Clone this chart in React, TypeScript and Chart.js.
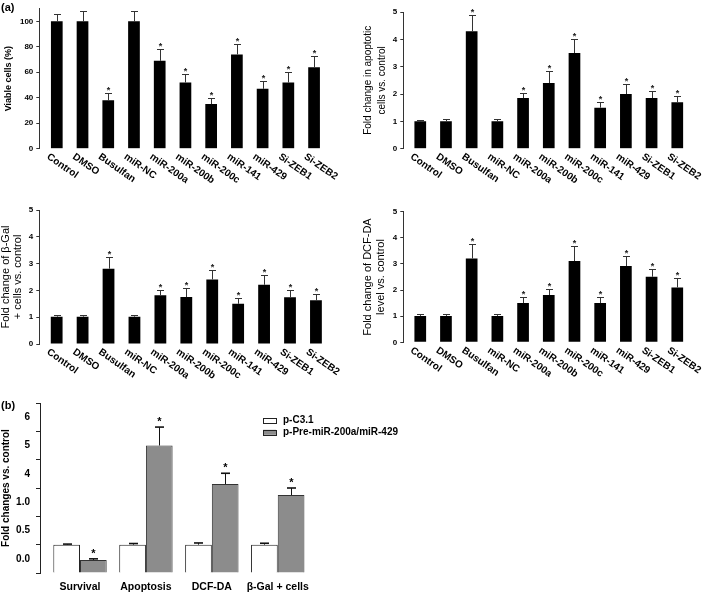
import React, { useEffect, useRef } from "react";
import { Chart, registerables } from "chart.js";

Chart.register(...registerables);

const FONT = '"Liberation Sans", Arial, sans-serif';

// ---------- Panel (a) data ----------
const categoriesA = ["Control", "DMSO", "Busulfan", "miR-NC", "miR-200a", "miR-200b", "miR-200c", "miR-141", "miR-429", "Si-ZEB1", "Si-ZEB2"];
const significantA = [false, false, true, false, true, true, true, true, true, true, true];

const viableCells = [100, 100, 38, 100, 69, 52, 35, 74, 47, 52, 64];
const viableCellsErr = [106, 108, 44, 108, 78, 59, 40, 82, 53, 60, 73];

const apoptoticFold = [1.0, 1.0, 4.3, 1.0, 1.85, 2.4, 3.5, 1.5, 2.0, 1.85, 1.7];
const apoptoticFoldErr = [1.06, 1.08, 4.9, 1.1, 2.05, 2.83, 4.02, 1.71, 2.35, 2.12, 1.93];

const betaGalFold = [1.02, 1.02, 2.81, 1.02, 1.82, 1.75, 2.41, 1.5, 2.21, 1.74, 1.63];
const betaGalFoldErr = [1.07, 1.1, 3.26, 1.08, 2.01, 2.1, 2.76, 1.73, 2.56, 2.01, 1.88];

const dcfdaFold = [1.01, 1.01, 3.21, 1.01, 1.5, 1.81, 3.11, 1.5, 2.92, 2.51, 2.1];
const dcfdaFoldErr = [1.07, 1.08, 3.76, 1.07, 1.72, 2.05, 3.67, 1.72, 3.3, 2.79, 2.46];

// ---------- Panel (b) data ----------
const categoriesB = ["Survival", "Apoptosis", "DCF-DA", "β-Gal + cells"];
const seriesNamesB = ["p-C3.1", "p-Pre-miR-200a/miR-429"];
const pC31 = [1.0, 1.0, 1.0, 1.0];
const pC31Err = [1.02, 1.04, 1.06, 1.05];
const pPre = [0.46, 4.5, 3.14, 2.75];
const pPreErr = [0.5, 5.15, 3.52, 3.0];
const significantB = [true, true, true, true];
const yTickLabelsB = ["0.0", "0.5", "1.0", "4", "5", "6"];

type PanelA = {
  left: number; top: number; width: number; height: number;
  axisX: number; padTop: number; padBottom: number; padRight: number;
  xMin: number; xMax: number; yMax: number; yStep: number;
  title: string | string[]; titleWeight: string; titleSize: number; titleLine: number; titlePad: number;
  values: number[]; errs: number[];
};

const panelsA: PanelA[] = [
  { left: 0, top: 0, width: 345, height: 200, axisX: 39.3, padTop: 8.6, padBottom: 51.3, padRight: 15.5,
    xMin: -0.68, xMax: 10.6, yMax: 110, yStep: 20,
    title: "Viable cells (%)", titleWeight: "bold", titleSize: 9, titleLine: 10.8, titlePad: 3,
    values: viableCells, errs: viableCellsErr },
  { left: 350, top: 0, width: 357, height: 200, axisX: 53.3, padTop: 12, padBottom: 51.3, padRight: 14.3,
    xMin: -0.66, xMax: 10.6, yMax: 5, yStep: 1,
    title: ["Fold change in apoptotic", "cells vs. control"], titleWeight: "normal", titleSize: 10, titleLine: 13.7, titlePad: 11.2,
    values: apoptoticFold, errs: apoptoticFoldErr },
  { left: 0, top: 200, width: 345, height: 200, axisX: 39.3, padTop: 10, padBottom: 56, padRight: 13.5,
    xMin: -0.67, xMax: 10.6, yMax: 5, yStep: 1,
    title: ["Fold change of β-Gal", "+ cells vs. control"], titleWeight: "normal", titleSize: 11, titleLine: 11.7, titlePad: 0,
    values: betaGalFold, errs: betaGalFoldErr },
  { left: 350, top: 200, width: 357, height: 200, axisX: 53.3, padTop: 11.7, padBottom: 57.7, padRight: 14.3,
    xMin: -0.66, xMax: 10.6, yMax: 5, yStep: 1,
    title: ["Fold change of DCF-DA", "level vs. control"], titleWeight: "normal", titleSize: 11, titleLine: 12.7, titlePad: 11.6,
    values: dcfdaFold, errs: dcfdaFoldErr },
];

function makeConfigA(p: PanelA): any {
  const decor = {
    id: "decorA",
    afterDraw(chart: any) {
      const ctx = chart.ctx;
      const meta = chart.getDatasetMeta(0);
      const ys = chart.scales.y;
      const xs = chart.scales.x;
      ctx.save();
      ctx.strokeStyle = "#333";
      ctx.lineWidth = 1;
      meta.data.forEach((bar: any, i: number) => {
        const x = Math.round(bar.x) + 0.5;
        const e = Math.round(ys.getPixelForValue(p.errs[i])) + 0.5;
        ctx.beginPath();
        ctx.moveTo(x, bar.y);
        ctx.lineTo(x, e);
        ctx.moveTo(x - 3.5, e);
        ctx.lineTo(x + 3.5, e);
        ctx.stroke();
        if (significantA[i]) {
          ctx.fillStyle = "#222";
          ctx.font = `bold 9px ${FONT}`;
          ctx.textAlign = "center";
          ctx.textBaseline = "alphabetic";
          ctx.fillText("*", x, e - 0.5);
        }
      });
      ctx.fillStyle = "#000";
      ctx.font = `bold 10px ${FONT}`;
      ctx.textAlign = "left";
      ctx.textBaseline = "top";
      categoriesA.forEach((c, i) => {
        const x = xs.getPixelForValue(i);
        ctx.save();
        ctx.translate(x - 6, chart.chartArea.bottom + 3);
        ctx.rotate((35 * Math.PI) / 180);
        ctx.fillText(c, 0, 0);
        ctx.restore();
      });
      ctx.restore();
    },
  };
  return {
    type: "bar",
    data: {
      labels: categoriesA,
      datasets: [
        {
          data: p.values.map((v, i) => ({ x: i, y: v })),
          backgroundColor: "#000",
          borderWidth: 0,
          categoryPercentage: 1,
          barPercentage: 0.455,
        },
      ],
    },
    options: {
      responsive: false,
      animation: false,
      devicePixelRatio: 1,
      layout: { padding: { top: p.padTop, bottom: p.padBottom, right: p.padRight, left: 0 } },
      plugins: { legend: { display: false }, tooltip: { enabled: false } },
      scales: {
        x: { type: "linear", display: false, offset: false, min: p.xMin, max: p.xMax },
        y: {
          type: "linear",
          min: 0,
          max: p.yMax,
          afterFit: (s: any) => { s.width = p.axisX; s.paddingTop = 0; s.paddingBottom = 0; },
          afterBuildTicks: (s: any) => { s.ticks = s.ticks.filter((t: any) => Math.abs(t.value / p.yStep - Math.round(t.value / p.yStep)) < 1e-6); },
          ticks: { stepSize: p.yStep, color: "#000", font: { family: FONT, size: 8, weight: "bold" }, padding: 3, autoSkip: false },
          grid: { display: true, drawOnChartArea: false, drawTicks: true, tickLength: 3, color: "#333" },
          border: { display: true, color: "#333", width: 1 },
          title: {
            display: true,
            text: p.title,
            color: "#000",
            font: { family: FONT, size: p.titleSize, weight: p.titleWeight, lineHeight: `${p.titleLine}px` },
            padding: { top: p.titlePad, bottom: 0 },
          },
        },
      },
    },
    plugins: [decor],
  };
}

const panelB = { left: 0, top: 400, width: 420, height: 192, axisX: 40, padTop: 3, padBottom: 19, padRight: 106, xMin: -0.607, xMax: 3.55 };

function makeConfigB(): any {
  const errsB = [pC31Err, pPreErr];
  const decor = {
    id: "decorB",
    afterDraw(chart: any) {
      const ctx = chart.ctx;
      const ys = chart.scales.y;
      const xs = chart.scales.x;
      ctx.save();
      ctx.strokeStyle = "#111";
      [0, 1].forEach((d) => {
        const meta = chart.getDatasetMeta(d);
        meta.data.forEach((bar: any, i: number) => {
          const x = Math.round(bar.x) + 0.5;
          const e = ys.getPixelForValue(errsB[d][i]);
          ctx.lineWidth = 1;
          ctx.beginPath();
          ctx.moveTo(x, bar.y);
          ctx.lineTo(x, e);
          ctx.stroke();
          ctx.lineWidth = 1.6;
          ctx.beginPath();
          ctx.moveTo(x - 4.5, e);
          ctx.lineTo(x + 4.5, e);
          ctx.stroke();
          if (d === 1 && significantB[i]) {
            ctx.fillStyle = "#000";
            ctx.font = `bold 11px ${FONT}`;
            ctx.textAlign = "center";
            ctx.textBaseline = "alphabetic";
            ctx.fillText("*", x, e - 2);
          }
        });
      });
      // category labels
      ctx.fillStyle = "#000";
      ctx.font = `bold 10.5px ${FONT}`;
      ctx.textAlign = "center";
      ctx.textBaseline = "middle";
      categoriesB.forEach((c, i) => {
        ctx.fillText(c, xs.getPixelForValue(i), 187);
      });
      // legend
      ctx.font = `bold 10px ${FONT}`;
      ctx.textAlign = "left";
      chart.data.datasets.forEach((ds: any, i: number) => {
        const mid = 20.7 + i * 11.6;
        ctx.fillStyle = ds.backgroundColor;
        ctx.fillRect(263, mid - 2.5, 13, 5);
        ctx.lineWidth = 1;
        ctx.strokeStyle = "#222";
        ctx.strokeRect(263.5, Math.round(mid - 2.5) + 0.5, 13, 5);
        ctx.fillStyle = "#000";
        ctx.fillText(ds.label, 283, mid);
      });
      ctx.restore();
    },
  };
  return {
    type: "bar",
    data: {
      labels: categoriesB,
      datasets: [
        {
          label: seriesNamesB[0],
          data: pC31.map((v, i) => ({ x: i, y: v })),
          backgroundColor: "#ffffff",
          borderColor: "#222",
          borderWidth: 1,
          categoryPercentage: 0.81,
          barPercentage: 1,
        },
        {
          label: seriesNamesB[1],
          data: pPre.map((v, i) => ({ x: i, y: v })),
          backgroundColor: "#8c8c8c",
          borderColor: "#333",
          borderWidth: 1,
          categoryPercentage: 0.81,
          barPercentage: 1,
        },
      ],
    },
    options: {
      responsive: false,
      animation: false,
      devicePixelRatio: 1,
      layout: { padding: { top: panelB.padTop, bottom: panelB.padBottom, right: panelB.padRight, left: 0 } },
      plugins: { legend: { display: false }, tooltip: { enabled: false } },
      scales: {
        x: { type: "linear", display: false, offset: false, min: panelB.xMin, max: panelB.xMax },
        y: {
          type: "linear",
          min: 0,
          max: 6,
          afterFit: (s: any) => { s.width = panelB.axisX; s.paddingTop = 0; s.paddingBottom = 0; },
          ticks: {
            stepSize: 0.5,
            autoSkip: false,
            color: "#000",
            padding: 6,
            font: { family: FONT, size: 10, weight: "bold" },
            callback: (v: any) => {
              const k = Math.round(Number(v) * 2);
              return k % 2 === 1 ? yTickLabelsB[(k - 1) / 2] : "";
            },
          },
          grid: {
            display: true,
            drawOnChartArea: false,
            drawTicks: true,
            tickLength: 4,
            color: (c: any) => (c.tick && Math.abs(c.tick.value - Math.round(c.tick.value)) < 1e-6 ? "#222" : "rgba(0,0,0,0)"),
          },
          border: { display: true, color: "#222", width: 1 },
          title: {
            display: true,
            text: "Fold changes vs. control",
            color: "#000",
            font: { family: FONT, size: 10, weight: "bold", lineHeight: "12px" },
            padding: { top: 0.7, bottom: 0 },
          },
        },
      },
    },
    plugins: [decor],
  };
}

function ChartCanvas({ left, top, width, height, config }: { left: number; top: number; width: number; height: number; config: () => any }) {
  const ref = useRef<HTMLCanvasElement | null>(null);
  useEffect(() => {
    if (!ref.current) return;
    const chart = new Chart(ref.current, config());
    return () => chart.destroy();
  }, []);
  return (
    <canvas
      ref={ref}
      width={width}
      height={height}
      style={{ position: "absolute", left, top, width, height }}
    />
  );
}

export default function App() {
  return (
    <div style={{ position: "absolute", left: 0, top: 0, width: 707, height: 592, background: "#fff", overflow: "hidden", fontFamily: FONT }}>
      {panelsA.map((p, i) => (
        <ChartCanvas key={i} left={p.left} top={p.top} width={p.width} height={p.height} config={() => makeConfigA(p)} />
      ))}
      <ChartCanvas left={panelB.left} top={panelB.top} width={panelB.width} height={panelB.height} config={makeConfigB} />
      <div style={{ position: "absolute", left: 1, top: 1, fontSize: 11, fontWeight: "bold", lineHeight: "12px" }}>(a)</div>
      <div style={{ position: "absolute", left: 1, top: 399, fontSize: 11, fontWeight: "bold", lineHeight: "12px" }}>(b)</div>
    </div>
  );
}
